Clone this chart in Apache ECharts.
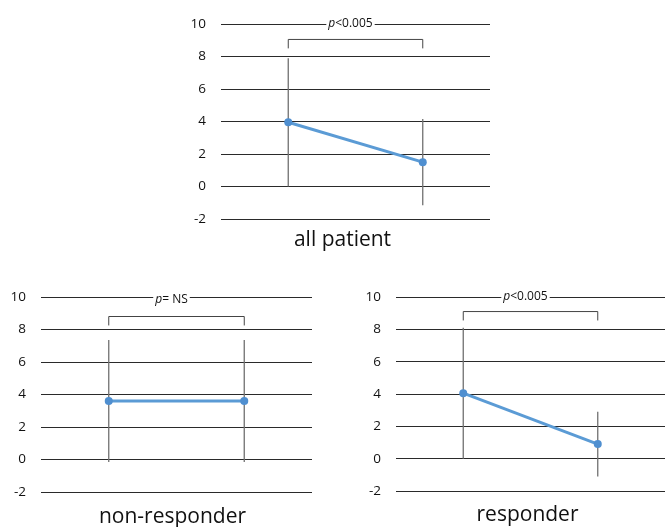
<!DOCTYPE html>
<html><head><meta charset="utf-8">
<script src="https://cdn.jsdelivr.net/npm/echarts@6/dist/echarts.min.js"></script>
<style>html,body{margin:0;padding:0;background:#fff}#c{width:665px;height:527px}</style>
</head><body><div id="c"></div>
<script>
var categories = ['before', 'after'];
var yTicks = [-2, 0, 2, 4, 6, 8, 10];
var panelTitles = ['all patient', 'non-responder', 'responder'];
var pLabels = ['<0.005', '= NS', '<0.005'];
var allMean = [3.95, 1.5];
var allErr = [3.95, 2.65];
var nonMean = [3.6, 3.6];
var nonErr = [3.75, 3.75];
var respMean = [4.05, 0.9];
var respErr = [4.05, 2.0];
var allBracket = [8.5, 9.05];
var nonBracket = [8.25, 8.8];
var respBracket = [8.55, 9.1];

var means = [allMean, nonMean, respMean];
var errs = [allErr, nonErr, respErr];
var brackets = [allBracket, nonBracket, respBracket];

var grids = [
  {left: 221, top: 24, width: 269, height: 195},
  {left: 41, top: 297, width: 271, height: 195},
  {left: 396, top: 297, width: 271, height: 194}
];
var FONT = 'Open Sans';
var chart = echarts.init(document.getElementById('c'));
var xAxes = [], yAxes = [], series = [];
for (var i = 0; i < 3; i++) {
  xAxes.push({gridIndex: i, type: 'category', data: categories, boundaryGap: true,
    axisLine: {show: false}, axisTick: {show: false}, axisLabel: {show: false}, splitLine: {show: false}});
  yAxes.push({gridIndex: i, type: 'value', min: yTicks[0], max: yTicks[yTicks.length - 1], interval: 2,
    axisLine: {show: false}, axisTick: {show: false},
    axisLabel: {color: '#111', fontSize: 13.5, fontFamily: FONT, margin: 15},
    splitLine: {lineStyle: {color: '#2a2a2a', width: 1}}});
  var errData = means[i].map(function (m, k) { return [k, m - errs[i][k], m + errs[i][k]]; });
  series.push({type: 'custom', xAxisIndex: i, yAxisIndex: i, z: 2, data: errData,
    renderItem: function (params, api) {
      var lo = api.coord([api.value(0), api.value(1)]);
      var hi = api.coord([api.value(0), api.value(2)]);
      return {type: 'line', shape: {x1: lo[0], y1: lo[1], x2: hi[0], y2: hi[1]},
        style: {stroke: '#707070', lineWidth: 1.3}};
    }});
  var b = brackets[i];
  series.push({type: 'line', xAxisIndex: i, yAxisIndex: i, z: 2, symbol: 'none', silent: true,
    lineStyle: {color: '#444', width: 1},
    data: [[0, b[0]], [0, b[1]], [1, b[1]], [1, b[0]]]});
  series.push({type: 'line', xAxisIndex: i, yAxisIndex: i, z: 5, data: means[i],
    symbol: 'circle', symbolSize: 8,
    itemStyle: {color: '#4f8fd0'}, lineStyle: {color: '#5B9BD5', width: 3}});
}
chart.setOption({
  animation: false,
  grid: grids,
  xAxis: xAxes,
  yAxis: yAxes,
  series: series
});
var graphics = [];
var titleOffsets = [[-13, 240], [-4, 517], [-4, 515]];
for (var j = 0; j < 3; j++) {
  var p0 = chart.convertToPixel({xAxisIndex: j, yAxisIndex: j}, [0, 10]);
  var p1 = chart.convertToPixel({xAxisIndex: j, yAxisIndex: j}, [1, 10]);
  var cx = (p0[0] + p1[0]) / 2;
  graphics.push({type: 'text', x: cx - 5, y: p0[1] + (j === 1 ? 3 : 0), z: 100,
    style: {text: '{i|p}{n|' + pLabels[j] + '}', align: 'center', verticalAlign: 'middle',
      backgroundColor: '#fff', padding: [0, 2],
      rich: {i: {fontStyle: 'italic', fontSize: 12, fontFamily: FONT, fill: '#111'},
             n: {fontSize: 12, fontFamily: FONT, fill: '#111'}}}});
  var g = grids[j];
  graphics.push({type: 'text', x: g.left + g.width / 2 + titleOffsets[j][0], y: titleOffsets[j][1], z: 100,
    style: {text: panelTitles[j], align: 'center', verticalAlign: 'middle',
      fontSize: 21, fontFamily: FONT, fill: '#111'}});
}
chart.setOption({graphic: graphics});
</script>
</body></html>
